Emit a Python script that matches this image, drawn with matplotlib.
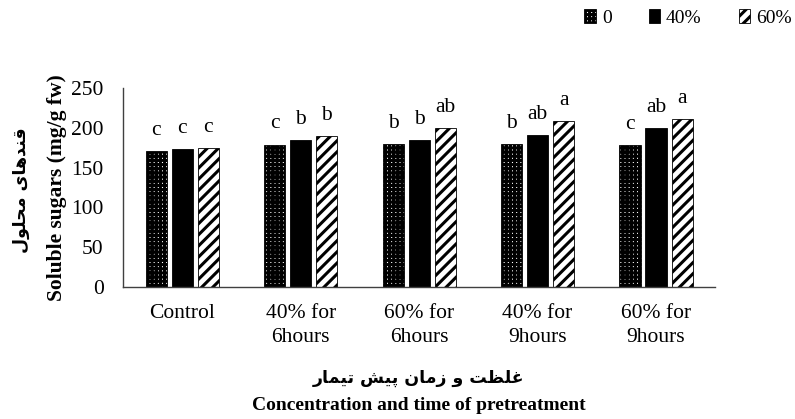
import numpy as np
import matplotlib.pyplot as plt

plt.rcParams['font.family'] = ['Liberation Serif', 'DejaVu Sans']
plt.rcParams['hatch.linewidth'] = 2.2

groups = ['Control', '40% for\n6hours', '60% for\n6hours', '40% for\n9hours', '60% for\n9hours']
levels = ['0', '40%', '60%']
sugar_0 = [171, 179, 180, 180, 178]
sugar_40 = [173, 185, 185, 191, 200]
sugar_60 = [174, 190, 200, 208, 211]
letters_0 = ['c', 'c', 'b', 'b', 'c']
letters_40 = ['c', 'b', 'b', 'ab', 'ab']
letters_60 = ['c', 'b', 'ab', 'a', 'a']

ylabel_fa = 'قندهای محلول'
xlabel_fa = 'غلظت و زمان پیش تیمار'

# presentation forms: isolated, final, initial, medial (None = does not join forward)
FORMS = {
    'ا': ('\uFE8D', '\uFE8E', None, None),
    'ت': ('\uFE95', '\uFE96', '\uFE97', '\uFE98'),
    'ح': ('\uFEA1', '\uFEA2', '\uFEA3', '\uFEA4'),
    'د': ('\uFEA9', '\uFEAA', None, None),
    'ر': ('\uFEAD', '\uFEAE', None, None),
    'ز': ('\uFEAF', '\uFEB0', None, None),
    'ش': ('\uFEB5', '\uFEB6', '\uFEB7', '\uFEB8'),
    'ظ': ('\uFEC5', '\uFEC6', '\uFEC7', '\uFEC8'),
    'غ': ('\uFECD', '\uFECE', '\uFECF', '\uFED0'),
    'ق': ('\uFED5', '\uFED6', '\uFED7', '\uFED8'),
    'ل': ('\uFEDD', '\uFEDE', '\uFEDF', '\uFEE0'),
    'م': ('\uFEE1', '\uFEE2', '\uFEE3', '\uFEE4'),
    'ن': ('\uFEE5', '\uFEE6', '\uFEE7', '\uFEE8'),
    'ه': ('\uFEE9', '\uFEEA', '\uFEEB', '\uFEEC'),
    'و': ('\uFEED', '\uFEEE', None, None),
    'ی': ('\uFEEF', '\uFEF0', '\uFEF3', '\uFEF4'),
    'پ': ('\uFB56', '\uFB57', '\uFB58', '\uFB59'),
}


def shape_fa(text):
    out = []
    for i, ch in enumerate(text):
        if ch not in FORMS:
            out.append(ch)
            continue
        prev = text[i - 1] if i > 0 else ''
        nxt = text[i + 1] if i + 1 < len(text) else ''
        join_prev = prev in FORMS and FORMS[prev][2] is not None
        join_next = FORMS[ch][2] is not None and nxt in FORMS
        iso, fin, ini, med = FORMS[ch]
        if join_prev and join_next:
            out.append(med)
        elif join_prev:
            out.append(fin)
        elif join_next:
            out.append(ini)
        else:
            out.append(iso)
    return ''.join(reversed(out))


fig = plt.figure(figsize=(7.95, 4.19), dpi=100)
ax = fig.add_axes([0.1547, 0.315, 0.745, 0.475])

x = np.arange(len(groups))
w = 0.178
step = 0.22

b0 = ax.bar(x - step, sugar_0, w, facecolor='white', edgecolor='black',
            hatch='++++', linewidth=0.6)
b40 = ax.bar(x, sugar_40, w, facecolor='black', edgecolor='black', linewidth=0.6)
b60 = ax.bar(x + step, sugar_60, w, facecolor='white', edgecolor='black',
             hatch='///', linewidth=0.6)

for bars, labs in [(b0, letters_0), (b40, letters_40), (b60, letters_60)]:
    for bar, lab in zip(bars, labs):
        ax.annotate(lab, (bar.get_x() + bar.get_width() / 2, bar.get_height()),
                    xytext=(0, 8), textcoords='offset points',
                    ha='center', va='bottom', fontsize=15.5)

ax.set_ylim(0, 250)
ax.set_xlim(-0.5, len(groups) - 0.5)
ax.set_yticks(np.arange(0, 251, 50))
ax.set_xticks(x)
ax.set_xticklabels(groups, fontsize=15.5, linespacing=1.35)
ax.tick_params(axis='y', length=0, labelsize=15.5, pad=14)
ax.tick_params(axis='x', length=0, pad=12)
for s in ['top', 'right']:
    ax.spines[s].set_visible(False)
for s in ['left', 'bottom']:
    ax.spines[s].set_color('#404040')
    ax.spines[s].set_linewidth(1.0)

ax.set_ylabel('Soluble sugars (mg/g fw)', fontsize=15.5, fontweight='bold', labelpad=3)
fig.text(0.027, 0.545, shape_fa(ylabel_fa), rotation=90, ha='center', va='center',
         fontsize=12.5, fontweight='bold', family=['DejaVu Sans'])
fig.text(0.527, 0.098, shape_fa(xlabel_fa), ha='center', va='center',
         fontsize=12.5, fontweight='bold', family=['DejaVu Sans'])
fig.text(0.527, 0.033, 'Concentration and time of pretreatment', ha='center',
         va='center', fontsize=14, fontweight='bold')

fig.legend([b0, b40, b60], levels, loc='upper right', bbox_to_anchor=(1.018, 1.02),
           ncol=3, frameon=False, fontsize=14, handlelength=0.6, handleheight=0.7,
           handletextpad=0.3, columnspacing=1.9)

fig.savefig('out.png', dpi=100)
